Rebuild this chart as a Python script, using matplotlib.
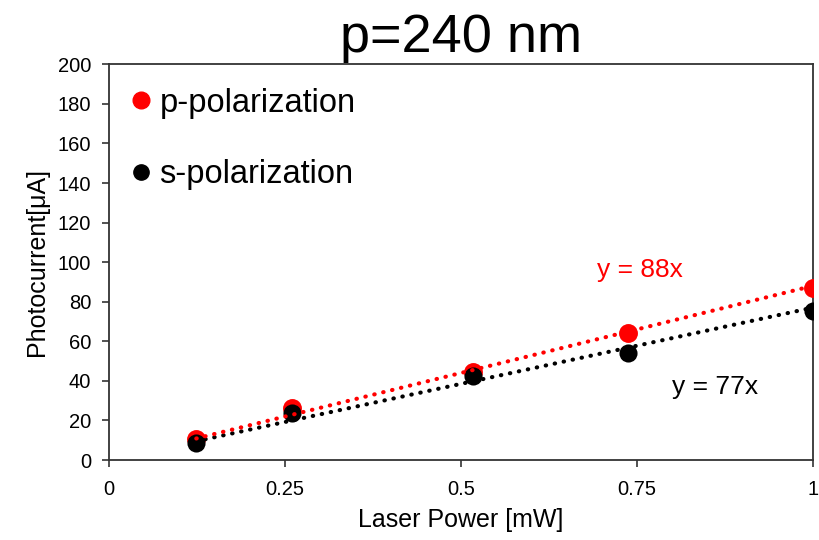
import matplotlib
matplotlib.use("Agg")
import matplotlib.pyplot as plt
from matplotlib.lines import Line2D
import numpy as np

plt.rcParams['font.family'] = ['Liberation Sans', 'DejaVu Sans']

# measured points
power_mw = [0.124, 0.26, 0.517, 0.738, 1.0]
current_p = [10.6, 26.2, 44.7, 64.4, 86.7]
current_s = [8.6, 23.7, 42.5, 54.0, 75.3]

# linear fits through the origin
slope_p = 88
slope_s = 77

x_ticks = [0, 0.25, 0.5, 0.75, 1]
x_tick_labels = ["0", "0.25", "0.5", "0.75", "1"]
y_ticks = list(range(0, 201, 20))

fig = plt.figure(figsize=(8.2, 5.4), dpi=100)
ax = fig.add_axes([0.133, 0.148, 0.858, 0.733])

ax.scatter(power_mw, current_p, s=185, color="#ff0000", zorder=3, linewidths=0)
ax.scatter(power_mw, current_s, s=170, color="black", zorder=4, linewidths=0)

xf = np.array([power_mw[0], power_mw[-1]])
ax.plot(xf, slope_s * xf, color="black", lw=3, linestyle=(0, (0.1, 2.1)),
        dash_capstyle="round", zorder=5)
ax.plot(xf, slope_p * xf, color="#ff0000", lw=3, linestyle=(0, (0.1, 2.1)),
        dash_capstyle="round", zorder=6)

ax.text(0.755, 96, "y = %dx" % slope_p, color="#ff0000", fontsize=19,
        ha="center", va="center")
ax.text(0.862, 37, "y = %dx" % slope_s, color="black", fontsize=19,
        ha="center", va="center")

ax.set_xlim(0, 1)
ax.set_ylim(0, 200)
ax.set_xticks(x_ticks)
ax.set_xticklabels(x_tick_labels)
ax.set_yticks(y_ticks)
ax.tick_params(axis="both", direction="out", length=5, width=1.2,
               color="#333333", labelsize=14.5)
ax.tick_params(axis="x", pad=9)
ax.tick_params(axis="y", pad=8)
for sp in ax.spines.values():
    sp.set_linewidth(1.3)
    sp.set_color("#333333")

ax.set_xlabel("Laser Power [mW]", fontsize=18, labelpad=7)
ax.set_ylabel("Photocurrent[μA]", fontsize=18, labelpad=6)
ax.set_title("p=240 nm", fontsize=39, pad=9)

handles = [
    Line2D([], [], marker="o", ls="none", color="#ff0000", markersize=12),
    Line2D([], [], marker="o", ls="none", color="black", markersize=11),
]
ax.legend(handles, ["p-polarization", "s-polarization"], loc="upper left",
          bbox_to_anchor=(-0.012, 1.015), frameon=False, fontsize=23.5,
          handlelength=0.7, handletextpad=0.2, labelspacing=1.25)

fig.savefig("out.png", dpi=100)
